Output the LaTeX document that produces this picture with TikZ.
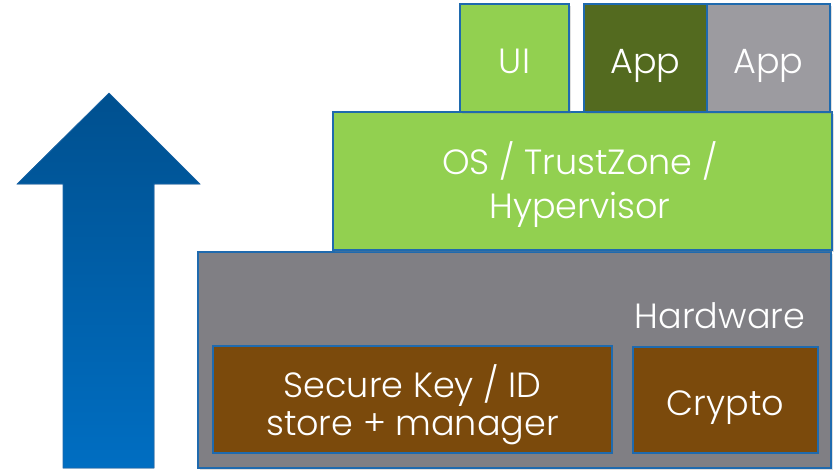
\documentclass[tikz,border=0pt]{standalone}
\usepackage{fontspec}
\setmainfont{Poppins}[UprightFont=* Light]
\usetikzlibrary{shadows}
\definecolor{bord}{HTML}{1F6AAE}
\definecolor{lgreen}{HTML}{92D050}
\definecolor{dgreen}{HTML}{536A1F}
\definecolor{agray}{HTML}{9C9BA0}
\definecolor{hgray}{HTML}{807F84}
\definecolor{brown}{HTML}{7B4A0C}
\definecolor{atop}{HTML}{00508F}
\definecolor{abot}{HTML}{006EC2}
\tikzset{
  layer/.style={draw=bord, line width=1.3pt, drop shadow={opacity=0.25,shadow xshift=2pt,shadow yshift=-2pt}},
  lbl/.style={text=white, font=\fontsize{35}{42}\selectfont, anchor=base, inner sep=0pt},
}
\begin{document}
\begin{tikzpicture}[x=1pt,y=-1pt]
\useasboundingbox (0,0) rectangle (836,471);
% arrow
\fill[top color=atop, bottom color=abot, draw=bord, line width=0.6pt]
  (109,93) -- (200,184) -- (154,184) -- (154,468) -- (63,468) -- (63,184) -- (17,184) -- cycle;
% hardware
\path[layer, fill=hgray] (198,252) rectangle (831,468);
\node[lbl] (hw) at (720,328) {Hardware};
\path[layer, fill=brown] (213,346) rectangle (612,453);
\node[lbl] (sk1) at (412.5,397) {Secure Key / ID};
\node[lbl] (sk2) at (412.5,435) {store + manager};
\path[layer, fill=brown] (633,347) rectangle (818,453);
\node[lbl] (cr) at (725.5,415) {Crypto};
% OS
\path[layer, fill=lgreen] (333,112) rectangle (832,250);
\node[lbl] (os1) at (580,174) {OS / TrustZone /};
\node[lbl] (os2) at (580,218) {Hypervisor};
% top
\path[layer, fill=lgreen] (460,4) rectangle (569,112);
\node[lbl] (ui) at (514.5,73) {UI};
\path[layer, fill=dgreen] (584,4) rectangle (707,112);
\node[lbl] (app1) at (645.5,73) {App};
\path[layer, fill=agray] (707,4) rectangle (830,112);
\node[lbl] (app2) at (768.5,73) {App};
\end{tikzpicture}
\end{document}
